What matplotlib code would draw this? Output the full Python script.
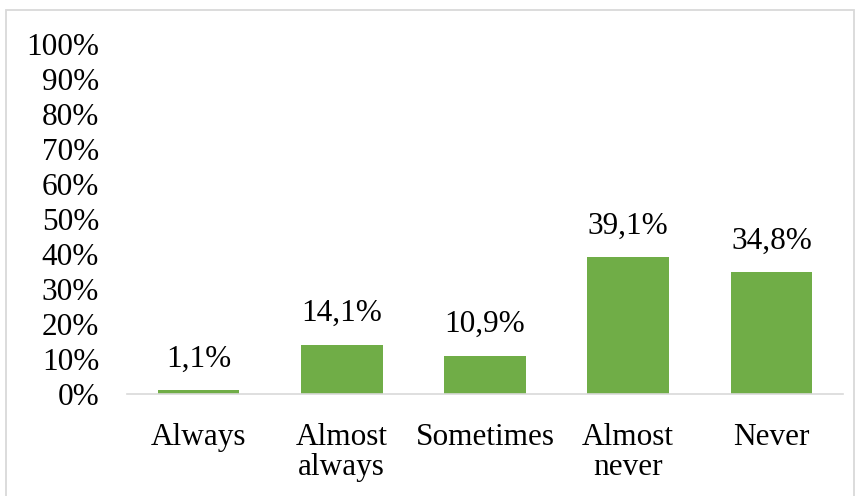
import matplotlib
matplotlib.use("Agg")
import matplotlib.pyplot as plt
from matplotlib.patches import Rectangle

categories = ["Always", "Almost\nalways", "Sometimes", "Almost\nnever", "Never"]
values = [1.1, 14.1, 10.9, 39.1, 34.8]
labels = ["1,1%", "14,1%", "10,9%", "39,1%", "34,8%"]
yticks = list(range(0, 101, 10))
ytick_labels = [f"{t}%" for t in yticks]

plt.rcParams['font.family'] = ['Liberation Serif', 'DejaVu Serif']
FS = 22.5

fig = plt.figure(figsize=(8.62, 4.96), dpi=100)
ax = fig.add_axes([127/862, 102/496, 716/862, 350/496])

x = list(range(len(categories)))
bars = ax.bar(x, values, width=0.57, color="#70AD47", zorder=2)
for xi, v, lab in zip(x, values, labels):
    ax.annotate(lab, (xi, v), xytext=(0, 12), textcoords="offset points",
                ha="center", va="bottom", fontsize=FS, color="#000000")

ax.set_xlim(-0.5, len(categories) - 0.5)
ax.set_ylim(0, 100)
ax.set_yticks(yticks)
ax.set_yticklabels(ytick_labels, fontsize=FS)
ax.set_xticks(x)
ax.set_xticklabels(categories, fontsize=FS, linespacing=1.03)
ax.tick_params(axis="y", length=0, pad=20)
ax.tick_params(axis="x", length=0, pad=21)
for s in ["top", "right", "left"]:
    ax.spines[s].set_visible(False)
ax.spines["bottom"].set_color("#D9D9D9")
ax.spines["bottom"].set_linewidth(1.2)

fig.patches.append(Rectangle((6.5/862, -0.05), 848/862, 1 - 10/496 + 0.05,
                             transform=fig.transFigure, fill=False,
                             edgecolor="#D9D9D9", linewidth=1.3))

fig.savefig("out.png", dpi=100)
